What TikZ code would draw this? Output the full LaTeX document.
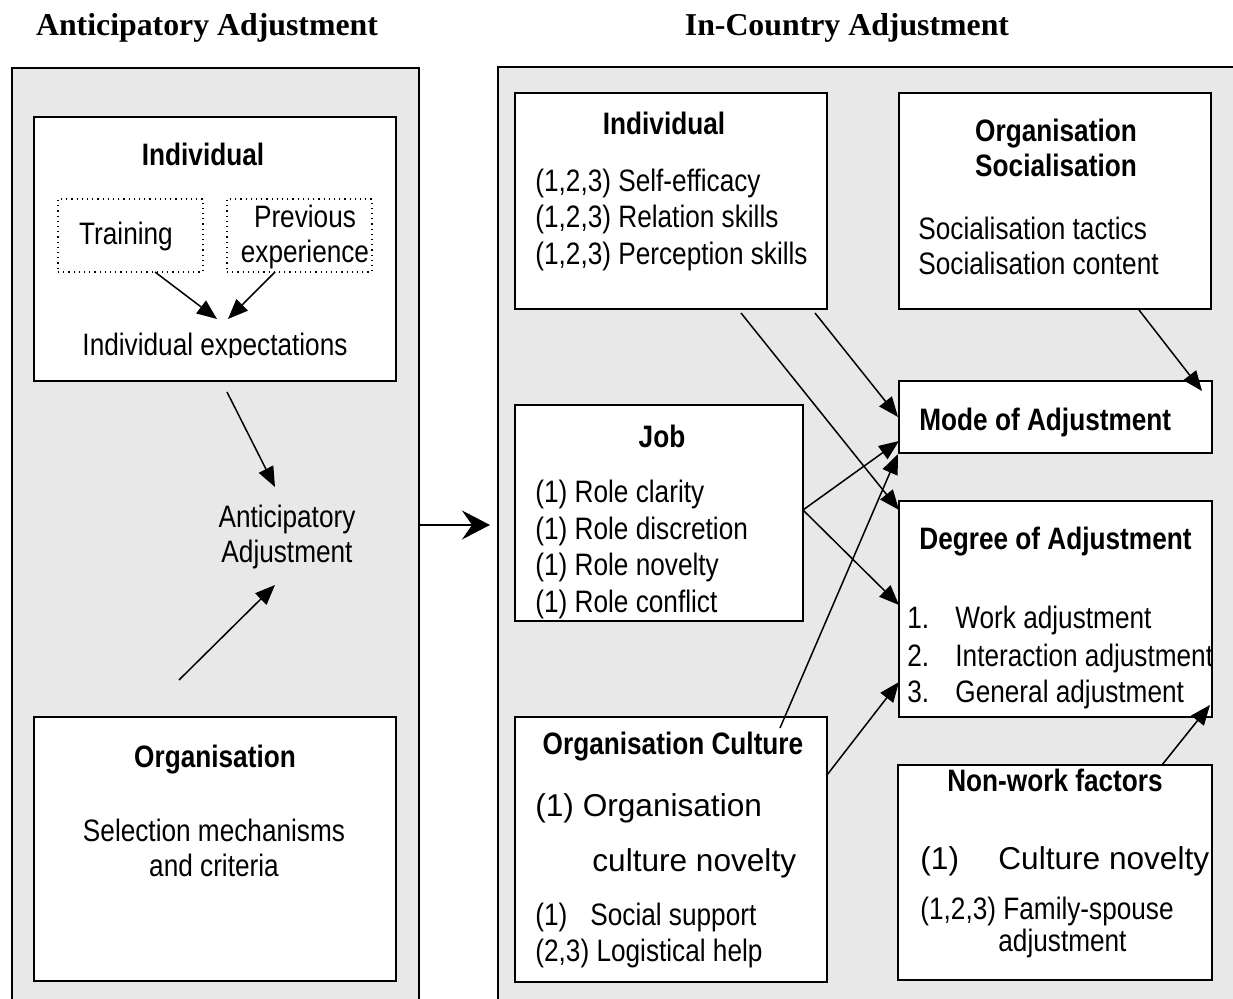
\documentclass[tikz,border=0pt]{standalone}
\usepackage{fontspec}
\setmainfont{Liberation Sans}[FakeStretch=0.845]
\newfontfamily\widefont{Liberation Sans}
\newfontfamily\headfont{Liberation Serif}
\usetikzlibrary{arrows.meta}
\definecolor{panelgray}{RGB}{232,232,232}

\begin{document}
\begin{tikzpicture}[x=0.5pt,y=-0.5pt,
  txt/.style={font=\fontsize{15.5}{18}\selectfont, inner sep=0pt},
  wide/.style={font=\widefont\fontsize{15.8}{18}\selectfont, inner sep=0pt},
  head/.style={font=\fontsize{15.5}{18}\selectfont\bfseries, inner sep=0pt},
  title/.style={font=\headfont\fontsize{15.9}{18}\selectfont\bfseries, inner sep=0pt},
  box/.style={draw=black, fill=white, line width=1pt, inner sep=0pt},
  dotbox/.style={draw=black, dotted, line width=0.6pt, inner sep=0pt},
  arr/.style={line width=0.75pt, -{Triangle[length=10pt,width=8pt]}}]
\useasboundingbox (0,0) rectangle (1233,999);
\clip (0,0) rectangle (1233,999);

% the two stages
\draw[fill=panelgray, line width=0.8pt] (12,68) rectangle (419,1010);
\draw[fill=panelgray, line width=0.8pt] (498,67) rectangle (1245,1010);
\node[title, anchor=base] (anttitle) at (207,36) {Anticipatory Adjustment};
\node[title, anchor=base] (ictitle) at (847,36) {In-Country Adjustment};

% anticipatory side
\node[box, minimum width=181pt, minimum height=132pt] (indA) at (215,249) {};
\node[head, anchor=base] (indAhead) at (203,166) {Individual};
\node[dotbox, minimum width=72.5pt, minimum height=36.5pt] (training) at (130.5,235.5) {};
\node[dotbox, minimum width=72.5pt, minimum height=36.5pt] (prevexp) at (299.5,235.5) {};
\node[txt, anchor=base] (trainingtxt) at (126,245) {Training};
\node[txt, anchor=base] (prevtxt1) at (305,228) {Previous};
\node[txt, anchor=base] (prevtxt2) at (305,263) {experience};
\begin{scope}
  \clip (34,117) rectangle (396,358);
  \node[txt, anchor=base] (expect) at (215,356) {Individual expectations};
\end{scope}
\node[txt, anchor=base] (antadj1) at (287,528) {Anticipatory};
\node[txt, anchor=base] (antadj2) at (287,563) {Adjustment};
\node[box, minimum width=181pt, minimum height=132pt] (orgA) at (215,849) {};
\node[head, anchor=base] (orgAhead) at (215,768) {Organisation};
\node[txt, anchor=base] (orgAtxt1) at (214,842) {Selection mechanisms};
\node[txt, anchor=base] (orgAtxt2) at (214,877) {and criteria};

% in-country side
\node[box, minimum width=156pt, minimum height=108pt] (indR) at (671,201) {};
\node[head, anchor=base] (indRhead) at (664,135) {Individual};
\node[txt, anchor=base west] (indR1) at (535,192) {(1,2,3) Self-efficacy};
\node[txt, anchor=base west] (indR2) at (535,228) {(1,2,3) Relation skills};
\node[txt, anchor=base west] (indR3) at (535,265) {(1,2,3) Perception skills};

\node[box, minimum width=156pt, minimum height=108pt] (orgsoc) at (1055,201) {};
\node[head, anchor=base] (orgsochead1) at (1056,142) {Organisation};
\node[head, anchor=base] (orgsochead2) at (1056,177) {Socialisation};
\node[txt, anchor=base west] (orgsoc1) at (918,240) {Socialisation tactics};
\node[txt, anchor=base west] (orgsoc2) at (918,275) {Socialisation content};

\node[box, minimum width=144pt, minimum height=108pt] (job) at (659,513) {};
\node[head, anchor=base] (jobhead) at (662,448) {Job};
\node[txt, anchor=base west] (job1) at (535,503) {(1) Role clarity};
\node[txt, anchor=base west] (job2) at (535,540) {(1) Role discretion};
\node[txt, anchor=base west] (job3) at (535,576) {(1) Role novelty};
\begin{scope}
  \clip (515,405) rectangle (803,620);
  \node[txt, anchor=base west] (job4) at (535,613) {(1) Role conflict};
\end{scope}

\node[box, minimum width=156.5pt, minimum height=36pt] (mode) at (1055.5,417) {};
\node[head, anchor=base west] (modehead) at (919,431) {Mode of Adjustment};

\node[box, minimum width=156.5pt, minimum height=108pt] (degree) at (1055.5,609) {};
\node[head, anchor=base west] (degreehead) at (919,550) {Degree of Adjustment};
\node[txt, anchor=base west] (deg1n) at (907,629) {1.};
\node[txt, anchor=base west] (deg1) at (955,629) {Work adjustment};
\node[txt, anchor=base west] (deg2n) at (907,667) {2.};
\node[txt, anchor=base west] (deg2) at (955,667) {Interaction adjustment};
\node[txt, anchor=base west] (deg3n) at (907,703) {3.};
\node[txt, anchor=base west] (deg3) at (955,703) {General adjustment};

\node[box, minimum width=156pt, minimum height=132.5pt] (culture) at (671,849.5) {};
\node[head, anchor=base] (culturehead) at (673,755) {Organisation Culture};
\node[wide, anchor=base west] (culture1) at (535,817) {(1) Organisation};
\node[wide, anchor=base west] (culture2) at (592,872) {culture novelty};
\node[txt, anchor=base west] (culture3n) at (535,926) {(1)};
\node[txt, anchor=base west] (culture3) at (590,926) {Social support};
\node[txt, anchor=base west] (culture4) at (535,962) {(2,3) Logistical help};

\node[box, minimum width=157pt, minimum height=107.5pt] (nonwork) at (1055,872.5) {};
\node[head, anchor=base] (nonworkhead) at (1055,792) {Non-work factors};
\node[wide, anchor=base west] (nonwork1n) at (920,870) {(1)};
\node[wide, anchor=base west] (nonwork1) at (998,870) {Culture novelty};
\node[txt, anchor=base west] (nonwork2) at (920,920) {(1,2,3) Family-spouse};
\node[txt, anchor=base west] (nonwork3) at (998,952) {adjustment};

% arrow ends
\coordinate (trainout) at (155,272);
\coordinate (prevout) at (275,272);
\coordinate (expin1) at (217,319);
\coordinate (expin2) at (228,319);
\coordinate (indAout) at (227,392);
\coordinate (antin1) at (275,487);
\coordinate (orgAout) at (179,680);
\coordinate (antin2) at (275,585);
\coordinate (stageout) at (419,525);
\coordinate (stagein) at (490,525);
\coordinate (indRout1) at (741,313);
\coordinate (indRout2) at (815,313);
\coordinate (orgsocout) at (1139,310);
\coordinate (modein1) at (1202,391);
\coordinate (modein2) at (899,441);
\coordinate (jobout) at (803,510);
\coordinate (degin1) at (899,510);
\coordinate (degin2) at (899,605);
\coordinate (degin3) at (899,682);
\coordinate (degin4) at (1210,705);
\coordinate (cultureout1) at (780,728);
\coordinate (cultureout2) at (827,775);
\coordinate (nonworkout) at (1162,765);

% arrows
\draw[arr] (trainout) -- (expin1);
\draw[arr] (prevout) -- (expin2);
\draw[arr] (indAout) -- (antin1);
\draw[arr] (orgAout) -- (antin2);
\draw[line width=0.75pt, -{Stealth[length=14pt,width=14.5pt,inset=5pt]}] (stageout) -- (stagein);
\draw[arr] (indRout1) -- (degin1);
\draw[arr] (indRout2) -- (mode.west);
\draw[arr] (orgsocout) -- (modein1);
\draw[arr] (jobout) -- (modein2);
\draw[arr] (jobout) -- (degin2);
\draw[arr] (cultureout1) -- (mode.south west);
\draw[arr] (cultureout2) -- (degin3);
\draw[arr] (nonworkout) -- (degin4);
\end{tikzpicture}
\end{document}
